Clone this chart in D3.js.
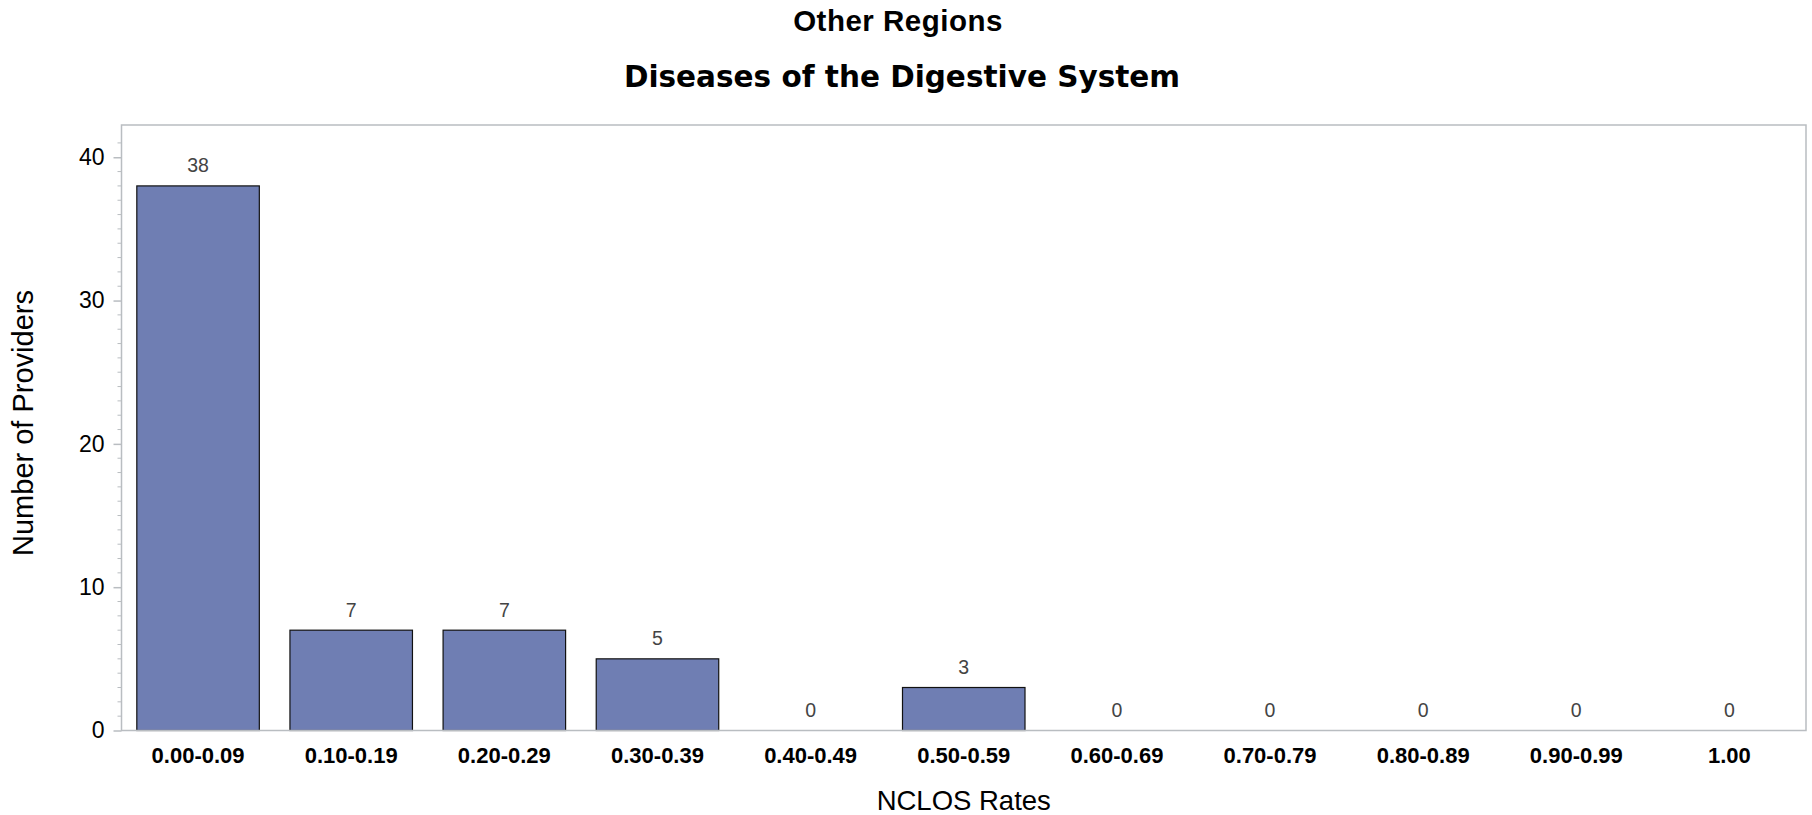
<!DOCTYPE html>
<html>
<head>
<meta charset="utf-8">
<script src="https://cdn.jsdelivr.net/npm/d3@7"></script>
<style>
  html, body { margin: 0; padding: 0; background: #fff; }
  svg { display: block; }
  text { font-family: "Liberation Sans", Arial, sans-serif; }
</style>
</head>
<body>
<svg id="chart" width="1812" height="815"></svg>
<script>
const categories = ["0.00-0.09","0.10-0.19","0.20-0.29","0.30-0.39","0.40-0.49","0.50-0.59","0.60-0.69","0.70-0.79","0.80-0.89","0.90-0.99","1.00"];
const providers = [38, 7, 7, 5, 0, 3, 0, 0, 0, 0, 0];
const yTicks = [0, 10, 20, 30, 40];
const mainTitle = "Other Regions";
const subTitle = "Diseases of the Digestive System";
const xTitle = "NCLOS Rates";
const yTitle = "Number of Providers";

const svg = d3.select("#chart");
const L = 121.5, R = 1806, T = 125, B = 730.5;

const x = d3.scaleBand().domain(categories).range([L, R]).paddingInner(0.2).paddingOuter(0.1);
const y = d3.scaleLinear().domain([0, 42.25]).range([B, T]);

// titles
svg.append("text").attr("x", 898).attr("y", 31).attr("text-anchor", "middle")
  .style("font-size", "29.5px").style("font-weight", "bold").style("letter-spacing", "0.5px")
  .text(mainTitle);
svg.append("text").attr("x", 902).attr("y", 87).attr("text-anchor", "middle")
  .style("font-family", "'DejaVu Sans', sans-serif")
  .style("font-size", "29.5px").style("font-weight", "bold")
  .text(subTitle);

// bars
svg.append("g").selectAll("rect").data(categories.map((c, i) => ({c, v: providers[i]})))
  .join("rect")
  .attr("x", d => x(d.c)).attr("width", x.bandwidth())
  .attr("y", d => y(d.v)).attr("height", d => y(0) - y(d.v))
  .attr("fill", "#6F7EB3").attr("stroke", "#111").attr("stroke-width", 1.2)
  .attr("display", d => d.v > 0 ? null : "none");

// value labels
svg.append("g").selectAll("text").data(categories.map((c, i) => ({c, v: providers[i]})))
  .join("text")
  .attr("x", d => x(d.c) + x.bandwidth() / 2)
  .attr("y", d => y(d.v) - 13.5)
  .attr("text-anchor", "middle")
  .style("font-size", "19.5px").attr("fill", "#444")
  .text(d => d.v);

// frame
svg.append("rect").attr("x", L).attr("y", T).attr("width", R - L).attr("height", B - T)
  .attr("fill", "none").attr("stroke", "#b9bdc1").attr("stroke-width", 1.5);

// y axis minor ticks
const minor = d3.range(1, 42).filter(v => v % 10 !== 0);
svg.append("g").selectAll("line").data(minor).join("line")
  .attr("x1", L - 4).attr("x2", L).attr("y1", d => y(d)).attr("y2", d => y(d))
  .attr("stroke", "#b9bdc1").attr("stroke-width", 1);

// y axis
const yAxis = d3.axisLeft(y).tickValues(yTicks).tickSize(8).tickPadding(9).tickFormat(d3.format("d"));
const gy = svg.append("g").attr("transform", `translate(${L},0)`).call(yAxis);
gy.select(".domain").remove();
gy.selectAll(".tick line").attr("stroke", "#b9bdc1").attr("stroke-width", 1.5);
gy.selectAll(".tick text").style("font-size", "23px").style("font-family", "'Liberation Sans', Arial, sans-serif").attr("fill", "#000");

// x axis
const xAxis = d3.axisBottom(x).tickSize(0).tickPadding(17);
const gx = svg.append("g").attr("transform", `translate(0,${B})`).call(xAxis);
gx.select(".domain").remove();
gx.selectAll(".tick text").style("font-size", "22px").style("font-weight", "bold")
  .style("font-family", "'Liberation Sans', Arial, sans-serif").attr("fill", "#000");

// axis titles
svg.append("text").attr("x", (L + R) / 2).attr("y", 810).attr("text-anchor", "middle")
  .style("font-size", "27.5px").text(xTitle);
svg.append("text").attr("transform", `translate(33,423) rotate(-90)`)
  .attr("text-anchor", "middle").style("font-size", "29px").text(yTitle);
</script>
</body>
</html>
